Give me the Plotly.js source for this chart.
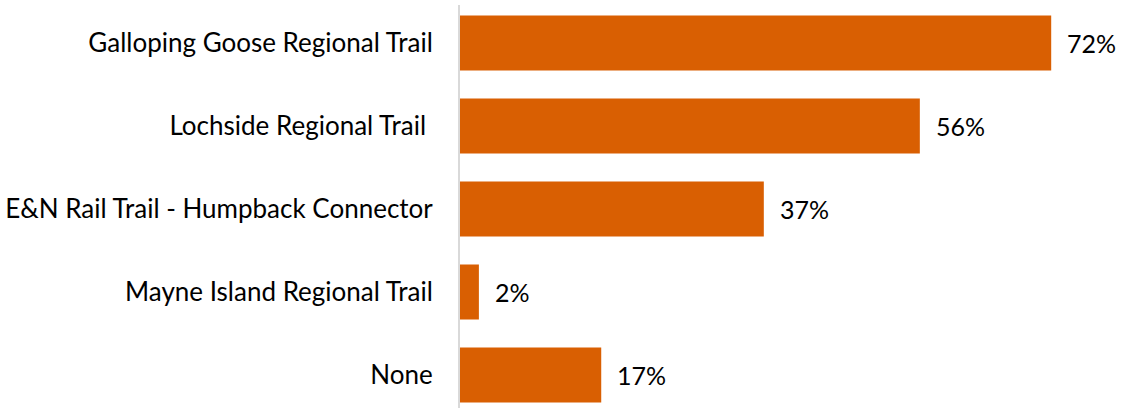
<!DOCTYPE html>
<html>
<head>
<meta charset="utf-8">
<script src="https://cdn.plot.ly/plotly-3.0.1.min.js"></script>
<style>html,body{margin:0;padding:0;background:#fff;}#chart{width:1121px;height:411px;}</style>
</head>
<body>
<div id="chart"></div>
<script>
const categories = ["Galloping Goose Regional Trail", "Lochside Regional Trail\u00A0", "E&N Rail Trail - Humpback Connector", "Mayne Island Regional Trail", "None"];
const values = [72, 56, 37, 2.3, 17.2];
const valueLabels = ["72%", "56%", "37%", "2%", "17%"];

const fontFam = "Lato, Open Sans, sans-serif";
const fontSize = 26;
const trace = {
  type: "bar",
  orientation: "h",
  y: categories,
  x: values,
  marker: {color: "#D95F02"},
  hoverinfo: "skip"
};
const annotations = categories.map((c, i) => ({
  x: values[i], y: c, text: valueLabels[i], xanchor: "left", yanchor: "middle",
  xshift: 14, showarrow: false, font: {family: fontFam, size: 25, color: "#000"}
}));
const layout = {
  width: 1121, height: 411,
  margin: {l: 460, r: 0, t: 5, b: 3},
  paper_bgcolor: "#fff", plot_bgcolor: "#fff",
  bargap: 0.337,
  showlegend: false,
  xaxis: {range: [0, 80.5], showgrid: false, zeroline: false, showticklabels: false, showline: false},
  yaxis: {type: "category", range: [4.398, -0.458], showgrid: false, zeroline: false,
    showline: true, linecolor: "#D9D9D9", linewidth: 2, ticks: "", ticklabelstandoff: 20,
    tickfont: {family: fontFam, size: fontSize, color: "#000"}},
  annotations: annotations,
  font: {family: fontFam}
};
Plotly.newPlot("chart", [trace], layout, {displayModeBar: false, staticPlot: true});
</script>
</body>
</html>
